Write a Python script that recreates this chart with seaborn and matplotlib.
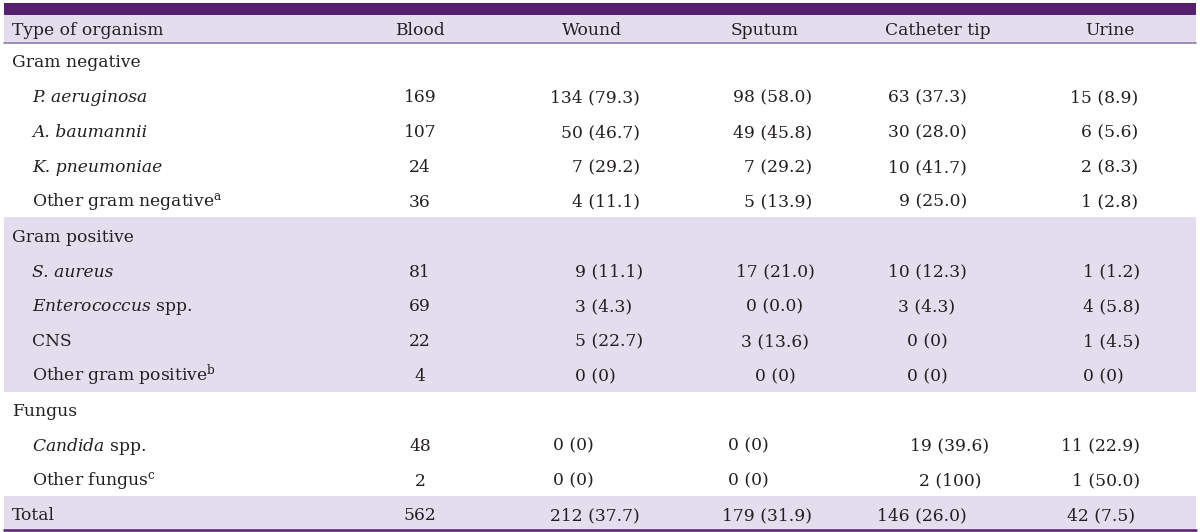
import matplotlib
matplotlib.use("Agg")
import matplotlib.pyplot as plt
import seaborn as sns
from matplotlib.patches import Rectangle

# table content
columns = ["Type of organism", "Blood", "Wound", "Sputum", "Catheter tip", "Urine"]
groups = ["Gram negative", "Gram positive", "Fungus"]
organisms = [
    ["P. aeruginosa", "A. baumannii", "K. pneumoniae", r"Other gram negative$^{\rm a}$"],
    ["S. aureus", r"$\it{Enterococcus}$ spp.", "CNS", r"Other gram positive$^{\rm b}$"],
    [r"$\it{Candida}$ spp.", r"Other fungus$^{\rm c}$"],
]
# whole name set in italics
italic = [[True, True, True, False], [True, False, False, False], [False, False]]
blood = [[169, 107, 24, 36], [81, 69, 22, 4], [48, 2]]
wound = [["134 (79.3)", "50 (46.7)", "7 (29.2)", "4 (11.1)"],
         ["9 (11.1)", "3 (4.3)", "5 (22.7)", "0 (0)"],
         ["0 (0)", "0 (0)"]]
sputum = [["98 (58.0)", "49 (45.8)", "7 (29.2)", "5 (13.9)"],
          ["17 (21.0)", "0 (0.0)", "3 (13.6)", "0 (0)"],
          ["0 (0)", "0 (0)"]]
catheter = [["63 (37.3)", "30 (28.0)", "10 (41.7)", "9 (25.0)"],
            ["10 (12.3)", "3 (4.3)", "0 (0)", "0 (0)"],
            ["19 (39.6)", "2 (100)"]]
urine = [["15 (8.9)", "6 (5.6)", "2 (8.3)", "1 (2.8)"],
         ["1 (1.2)", "4 (5.8)", "1 (4.5)", "0 (0)"],
         ["11 (22.9)", "1 (50.0)"]]
total = ["Total", "562", "212 (37.7)", "179 (31.9)", "146 (26.0)", "42 (7.5)"]

sns.set_theme(style="white")
plt.rcParams["font.family"] = ["DejaVu Serif"]
plt.rcParams["mathtext.fontset"] = "custom"
plt.rcParams["mathtext.rm"] = "DejaVu Serif"
plt.rcParams["mathtext.it"] = "DejaVu Serif:italic"

dark = "#56206f"
band = "#e3ddee"
ink = "#231f20"
fs = 12.3

fig = plt.figure(figsize=(12, 5.32), dpi=100)
ax = fig.add_axes([0, 0, 1, 1])
ax.set_xlim(0, 1200)
ax.set_ylim(532, 0)
ax.axis("off")

x0, x1 = 4, 1196
head_top, head_bot = 15, 43
row_h = 34.85
off = 7  # baseline offset from row centre

ax.add_patch(Rectangle((x0, 3), x1 - x0, head_top - 3, color=dark, lw=0))
ax.add_patch(Rectangle((x0, head_top), x1 - x0, head_bot - head_top, color=band, lw=0))
ax.plot([x0, x1], [head_bot, head_bot], color="#9a86ab", lw=1.3)

# header
head_pos = [(12, "left"), (420, "center"), (592, "center"), (765, "center"),
            (938, "center"), (1110, "center")]
for (hx, ha), name in zip(head_pos, columns):
    ax.text(hx, (head_top + head_bot) / 2 + off - 1, name, ha=ha, va="baseline",
            fontsize=fs, color=ink)

# per-block alignment of Wound, Sputum, Catheter tip, Urine
block_pos = [
    [(640, "right"), (812, "right"), (967, "right"), (1138, "right")],
    [(575, "left"), (775, "center"), (927, "center"), (1083, "left")],
    [(553, "left"), (728, "left"), (950, "center"), (1140, "right")],
]

row = 0
for g, grp in enumerate(groups):
    n = len(organisms[g]) + 1
    top = head_bot + row * row_h
    if g == 1:
        ax.add_patch(Rectangle((x0, top), x1 - x0, n * row_h, color=band, lw=0))
    yc = top + row_h / 2
    ax.text(12, yc + off, grp, ha="left", va="baseline", fontsize=fs, color=ink)
    for i, org in enumerate(organisms[g]):
        yc = top + (i + 1.5) * row_h
        ax.text(32, yc + off, org, ha="left", va="baseline", fontsize=fs, color=ink,
                fontstyle="italic" if italic[g][i] else "normal")
        ax.text(420, yc + off, str(blood[g][i]), ha="center", va="baseline",
                fontsize=fs, color=ink)
        vals = [wound[g][i], sputum[g][i], catheter[g][i], urine[g][i]]
        for (vx, ha), v in zip(block_pos[g], vals):
            ax.text(vx, yc + off, v, ha=ha, va="baseline", fontsize=fs, color=ink)
    row += n

# total row
top = head_bot + row * row_h
bot = 530
ax.add_patch(Rectangle((x0, top), x1 - x0, bot - top, color=band, lw=0))
ax.plot([x0, x1], [bot, bot], color=dark, lw=1.8)
yc = (top + bot) / 2
total_pos = [(12, "left"), (420, "center"), (640, "right"), (812, "right"),
             (967, "right"), (1067, "left")]
for (tx, ha), v in zip(total_pos, total):
    ax.text(tx, yc + off, v, ha=ha, va="baseline", fontsize=fs, color=ink)

fig.savefig("out.png", dpi=100)
